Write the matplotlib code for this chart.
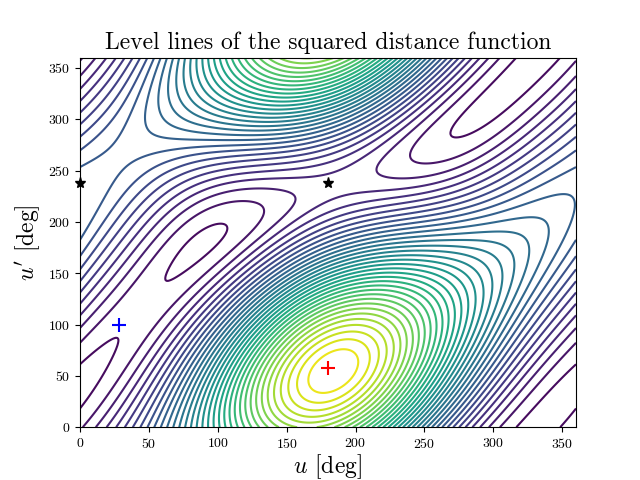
import numpy as np
import matplotlib
matplotlib.use("Agg")
import matplotlib.pyplot as plt

plt.rcParams["font.family"] = "serif"
plt.rcParams["font.serif"] = ["cmr10"]
plt.rcParams["mathtext.fontset"] = "cm"
plt.rcParams["axes.formatter.use_mathtext"] = True

# orbit parameters (a, e, argument of pericenter [deg], inclination [deg])
orbit1 = [1.0, 0.6, 0.0, 0.0]
orbit2 = [0.8, 0.15, -50.0, 25.0]
n_levels = 45

# marked points [deg]
star_u = [0, 180]
star_up = [238, 238]
min_u, min_up = [28], [100]
max_u, max_up = [180], [58]

def pos(orb, u):
    a, e, w, inc = orb
    w, inc = np.radians(w), np.radians(inc)
    x = a * (np.cos(u) - e)
    y = a * np.sqrt(1 - e**2) * np.sin(u)
    xr = x * np.cos(w) - y * np.sin(w)
    yr = x * np.sin(w) + y * np.cos(w)
    return xr, yr * np.cos(inc), yr * np.sin(inc)

u = np.linspace(0, 360, 400)
U, UP = np.meshgrid(u, u)
x1, y1, z1 = pos(orbit1, np.radians(U))
x2, y2, z2 = pos(orbit2, np.radians(UP))
D2 = (x1 - x2)**2 + (y1 - y2)**2 + (z1 - z2)**2

fig, ax = plt.subplots(figsize=(6.4, 4.8))
ax.contour(U, UP, D2, levels=n_levels, cmap="viridis", linewidths=1.5)
ax.plot(star_u, star_up, "k*", ms=8, clip_on=False)
ax.plot(min_u, min_up, "b+", ms=10, mew=1.5)
ax.plot(max_u, max_up, "r+", ms=10, mew=1.5)
ax.set_xlim(0, 360)
ax.set_ylim(0, 360)
ax.set_xlabel(r"$u$ [deg]", fontsize=17, labelpad=1)
ax.set_ylabel(r"$u'$ [deg]", fontsize=17)
ax.set_title("Level lines of the squared distance function", fontsize=17)
fig.savefig("out.png", dpi=100)
